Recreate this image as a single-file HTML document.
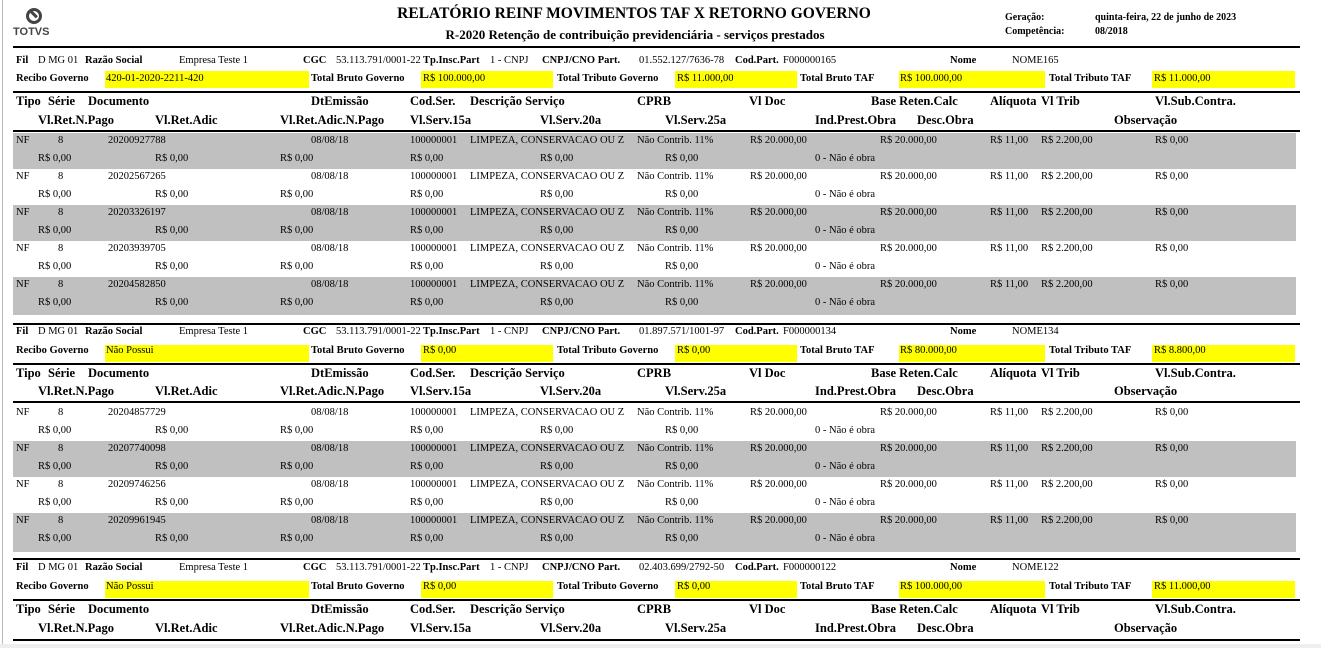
<!DOCTYPE html>
<html><head><meta charset="utf-8"><style>
body{margin:0;width:1321px;height:648px;background:#fff;position:relative;overflow:hidden;font-family:"Liberation Serif",serif;color:#000}
.a{position:absolute;white-space:nowrap}
.r{position:absolute;left:0;width:1321px;height:14px}
.r span{position:absolute;white-space:nowrap;top:0;line-height:14px;font-size:10.5px}
.h{height:16px}.h span{font-size:12.5px;font-weight:bold;line-height:16px}
.hl{position:absolute;left:13px;width:1287px;height:2px;background:#000}
.g{position:absolute;left:13px;width:1283px;background:#c0c0c0}
.y{position:absolute;background:#ffff00;height:17px}
</style></head><body>
<div class="a" style="left:2px;top:0;width:1px;height:648px;background:#bbb"></div>
<div class="a" style="left:26px;top:8px;width:16px;height:16px;border:3px solid #444;border-radius:50%;box-sizing:border-box"></div>
<div class="a" style="left:30px;top:13px;width:8px;height:3px;background:#444;transform:rotate(45deg)"></div>
<div class="a" style="left:13px;top:26px;font-family:'Liberation Sans',sans-serif;font-weight:bold;font-size:11px;color:#444">TOTVS</div>
<div class="a" style="left:0;width:1268px;text-align:center;top:5px;font-size:15.5px;font-weight:bold">RELATÓRIO REINF MOVIMENTOS TAF X RETORNO GOVERNO</div>
<div class="a" style="left:0;width:1270px;text-align:center;top:27px;font-size:13px;font-weight:bold">R-2020 Retenção de contribuição previdenciária - serviços prestados</div>
<div class="a" style="left:1005px;top:12px;font-size:10px;font-weight:bold">Geração:</div>
<div class="a" style="left:1095px;top:12px;font-size:10px;font-weight:bold">quinta-feira, 22 de junho de 2023</div>
<div class="a" style="left:1005px;top:26px;font-size:10px;font-weight:bold">Competência:</div>
<div class="a" style="left:1095px;top:26px;font-size:10px;font-weight:bold">08/2018</div>

<!-- SECTION 1 -->
<div class="hl" style="top:46px"></div>
<div class="r" style="top:54px"><span style="left:16px;font-weight:bold">Fil</span><span style="left:38px">D MG 01</span><span style="left:85px;font-weight:bold">Razão Social</span><span style="left:179px">Empresa Teste 1</span><span style="left:303px;font-weight:bold">CGC</span><span style="left:336px">53.113.791/0001-22</span><span style="left:423px;font-weight:bold">Tp.Insc.Part</span><span style="left:490px">1 - CNPJ</span><span style="left:542px;font-weight:bold">CNPJ/CNO Part.</span><span style="left:639px">01.552.127/7636-78</span><span style="left:735px;font-weight:bold">Cod.Part.</span><span style="left:783px">F000000165</span><span style="left:950px;font-weight:bold">Nome</span><span style="left:1012px">NOME165</span></div>
<div class="y" style="left:105px;width:204px;top:71px"></div><div class="y" style="left:421px;width:132px;top:71px"></div><div class="y" style="left:675px;width:122px;top:71px"></div><div class="y" style="left:899px;width:146px;top:71px"></div><div class="y" style="left:1152px;width:143px;top:71px"></div>
<div class="r" style="top:72px"><span style="left:16px;font-weight:bold">Recibo Governo</span><span style="left:106px">420-01-2020-2211-420</span><span style="left:311px;font-weight:bold">Total Bruto Governo</span><span style="left:423px">R$ 100.000,00</span><span style="left:557px;font-weight:bold">Total Tributo Governo</span><span style="left:677px">R$ 11.000,00</span><span style="left:800px;font-weight:bold">Total Bruto TAF</span><span style="left:900px">R$ 100.000,00</span><span style="left:1049px;font-weight:bold">Total Tributo TAF</span><span style="left:1154px">R$ 11.000,00</span></div>
<div class="hl" style="top:91px"></div>
<div class="r h" style="top:93px"><span style="left:16px">Tipo</span><span style="left:48px">Série</span><span style="left:88px">Documento</span><span style="left:311px">DtEmissão</span><span style="left:410px">Cod.Ser.</span><span style="left:470px">Descrição Serviço</span><span style="left:637px">CPRB</span><span style="left:749px">Vl Doc</span><span style="left:871px">Base Reten.Calc</span><span style="left:990px">Alíquota</span><span style="left:1041px">Vl Trib</span><span style="left:1155px">Vl.Sub.Contra.</span></div>
<div class="r h" style="top:112px"><span style="left:38px">Vl.Ret.N.Pago</span><span style="left:155px">Vl.Ret.Adic</span><span style="left:280px">Vl.Ret.Adic.N.Pago</span><span style="left:410px">Vl.Serv.15a</span><span style="left:540px">Vl.Serv.20a</span><span style="left:665px">Vl.Serv.25a</span><span style="left:815px">Ind.Prest.Obra</span><span style="left:917px">Desc.Obra</span><span style="left:1114px">Observação</span></div>
<div class="hl" style="top:130px"></div>
<div class="g" style="top:133px;height:36px"></div>
<div class="g" style="top:205px;height:36px"></div>
<div class="g" style="top:277px;height:38px"></div>

<div class="r" style="top:134px"><span style="left:16px">NF</span><span style="left:58px">8</span><span style="left:108px">20200927788</span><span style="left:311px">08/08/18</span><span style="left:410px">100000001</span><span style="left:470px">LIMPEZA, CONSERVACAO OU Z</span><span style="left:637px">Não Contrib. 11%</span><span style="left:750px">R$ 20.000,00</span><span style="left:880px">R$ 20.000,00</span><span style="left:990px">R$ 11,00</span><span style="left:1041px">R$ 2.200,00</span><span style="left:1155px">R$ 0,00</span></div>
<div class="r" style="top:152px"><span style="left:38px">R$ 0,00</span><span style="left:155px">R$ 0,00</span><span style="left:280px">R$ 0,00</span><span style="left:410px">R$ 0,00</span><span style="left:540px">R$ 0,00</span><span style="left:665px">R$ 0,00</span><span style="left:815px">0 - Não é obra</span></div>
<div class="r" style="top:170px"><span style="left:16px">NF</span><span style="left:58px">8</span><span style="left:108px">20202567265</span><span style="left:311px">08/08/18</span><span style="left:410px">100000001</span><span style="left:470px">LIMPEZA, CONSERVACAO OU Z</span><span style="left:637px">Não Contrib. 11%</span><span style="left:750px">R$ 20.000,00</span><span style="left:880px">R$ 20.000,00</span><span style="left:990px">R$ 11,00</span><span style="left:1041px">R$ 2.200,00</span><span style="left:1155px">R$ 0,00</span></div>
<div class="r" style="top:188px"><span style="left:38px">R$ 0,00</span><span style="left:155px">R$ 0,00</span><span style="left:280px">R$ 0,00</span><span style="left:410px">R$ 0,00</span><span style="left:540px">R$ 0,00</span><span style="left:665px">R$ 0,00</span><span style="left:815px">0 - Não é obra</span></div>
<div class="r" style="top:206px"><span style="left:16px">NF</span><span style="left:58px">8</span><span style="left:108px">20203326197</span><span style="left:311px">08/08/18</span><span style="left:410px">100000001</span><span style="left:470px">LIMPEZA, CONSERVACAO OU Z</span><span style="left:637px">Não Contrib. 11%</span><span style="left:750px">R$ 20.000,00</span><span style="left:880px">R$ 20.000,00</span><span style="left:990px">R$ 11,00</span><span style="left:1041px">R$ 2.200,00</span><span style="left:1155px">R$ 0,00</span></div>
<div class="r" style="top:224px"><span style="left:38px">R$ 0,00</span><span style="left:155px">R$ 0,00</span><span style="left:280px">R$ 0,00</span><span style="left:410px">R$ 0,00</span><span style="left:540px">R$ 0,00</span><span style="left:665px">R$ 0,00</span><span style="left:815px">0 - Não é obra</span></div>
<div class="r" style="top:242px"><span style="left:16px">NF</span><span style="left:58px">8</span><span style="left:108px">20203939705</span><span style="left:311px">08/08/18</span><span style="left:410px">100000001</span><span style="left:470px">LIMPEZA, CONSERVACAO OU Z</span><span style="left:637px">Não Contrib. 11%</span><span style="left:750px">R$ 20.000,00</span><span style="left:880px">R$ 20.000,00</span><span style="left:990px">R$ 11,00</span><span style="left:1041px">R$ 2.200,00</span><span style="left:1155px">R$ 0,00</span></div>
<div class="r" style="top:260px"><span style="left:38px">R$ 0,00</span><span style="left:155px">R$ 0,00</span><span style="left:280px">R$ 0,00</span><span style="left:410px">R$ 0,00</span><span style="left:540px">R$ 0,00</span><span style="left:665px">R$ 0,00</span><span style="left:815px">0 - Não é obra</span></div>
<div class="r" style="top:278px"><span style="left:16px">NF</span><span style="left:58px">8</span><span style="left:108px">20204582850</span><span style="left:311px">08/08/18</span><span style="left:410px">100000001</span><span style="left:470px">LIMPEZA, CONSERVACAO OU Z</span><span style="left:637px">Não Contrib. 11%</span><span style="left:750px">R$ 20.000,00</span><span style="left:880px">R$ 20.000,00</span><span style="left:990px">R$ 11,00</span><span style="left:1041px">R$ 2.200,00</span><span style="left:1155px">R$ 0,00</span></div>
<div class="r" style="top:296px"><span style="left:38px">R$ 0,00</span><span style="left:155px">R$ 0,00</span><span style="left:280px">R$ 0,00</span><span style="left:410px">R$ 0,00</span><span style="left:540px">R$ 0,00</span><span style="left:665px">R$ 0,00</span><span style="left:815px">0 - Não é obra</span></div>

<!-- SECTION 2 -->
<div class="hl" style="top:323px"></div>
<div class="r" style="top:325px"><span style="left:16px;font-weight:bold">Fil</span><span style="left:38px">D MG 01</span><span style="left:85px;font-weight:bold">Razão Social</span><span style="left:179px">Empresa Teste 1</span><span style="left:303px;font-weight:bold">CGC</span><span style="left:336px">53.113.791/0001-22</span><span style="left:423px;font-weight:bold">Tp.Insc.Part</span><span style="left:490px">1 - CNPJ</span><span style="left:542px;font-weight:bold">CNPJ/CNO Part.</span><span style="left:639px">01.897.571/1001-97</span><span style="left:735px;font-weight:bold">Cod.Part.</span><span style="left:783px">F000000134</span><span style="left:950px;font-weight:bold">Nome</span><span style="left:1012px">NOME134</span></div>
<div class="y" style="left:105px;width:204px;top:345px"></div><div class="y" style="left:421px;width:132px;top:345px"></div><div class="y" style="left:675px;width:122px;top:345px"></div><div class="y" style="left:899px;width:146px;top:345px"></div><div class="y" style="left:1152px;width:143px;top:345px"></div>
<div class="r" style="top:344px"><span style="left:16px;font-weight:bold">Recibo Governo</span><span style="left:106px">Não Possui</span><span style="left:311px;font-weight:bold">Total Bruto Governo</span><span style="left:423px">R$ 0,00</span><span style="left:557px;font-weight:bold">Total Tributo Governo</span><span style="left:677px">R$ 0,00</span><span style="left:800px;font-weight:bold">Total Bruto TAF</span><span style="left:900px">R$ 80.000,00</span><span style="left:1049px;font-weight:bold">Total Tributo TAF</span><span style="left:1154px">R$ 8.800,00</span></div>
<div class="hl" style="top:363px"></div>
<div class="r h" style="top:365px"><span style="left:16px">Tipo</span><span style="left:48px">Série</span><span style="left:88px">Documento</span><span style="left:311px">DtEmissão</span><span style="left:410px">Cod.Ser.</span><span style="left:470px">Descrição Serviço</span><span style="left:637px">CPRB</span><span style="left:749px">Vl Doc</span><span style="left:871px">Base Reten.Calc</span><span style="left:990px">Alíquota</span><span style="left:1041px">Vl Trib</span><span style="left:1155px">Vl.Sub.Contra.</span></div>
<div class="r h" style="top:383px"><span style="left:38px">Vl.Ret.N.Pago</span><span style="left:155px">Vl.Ret.Adic</span><span style="left:280px">Vl.Ret.Adic.N.Pago</span><span style="left:410px">Vl.Serv.15a</span><span style="left:540px">Vl.Serv.20a</span><span style="left:665px">Vl.Serv.25a</span><span style="left:815px">Ind.Prest.Obra</span><span style="left:917px">Desc.Obra</span><span style="left:1114px">Observação</span></div>
<div class="hl" style="top:401px"></div>
<div class="g" style="top:441px;height:36px"></div>
<div class="g" style="top:513px;height:39px"></div>
<div class="r" style="top:406px"><span style="left:16px">NF</span><span style="left:58px">8</span><span style="left:108px">20204857729</span><span style="left:311px">08/08/18</span><span style="left:410px">100000001</span><span style="left:470px">LIMPEZA, CONSERVACAO OU Z</span><span style="left:637px">Não Contrib. 11%</span><span style="left:750px">R$ 20.000,00</span><span style="left:880px">R$ 20.000,00</span><span style="left:990px">R$ 11,00</span><span style="left:1041px">R$ 2.200,00</span><span style="left:1155px">R$ 0,00</span></div>
<div class="r" style="top:424px"><span style="left:38px">R$ 0,00</span><span style="left:155px">R$ 0,00</span><span style="left:280px">R$ 0,00</span><span style="left:410px">R$ 0,00</span><span style="left:540px">R$ 0,00</span><span style="left:665px">R$ 0,00</span><span style="left:815px">0 - Não é obra</span></div>
<div class="r" style="top:442px"><span style="left:16px">NF</span><span style="left:58px">8</span><span style="left:108px">20207740098</span><span style="left:311px">08/08/18</span><span style="left:410px">100000001</span><span style="left:470px">LIMPEZA, CONSERVACAO OU Z</span><span style="left:637px">Não Contrib. 11%</span><span style="left:750px">R$ 20.000,00</span><span style="left:880px">R$ 20.000,00</span><span style="left:990px">R$ 11,00</span><span style="left:1041px">R$ 2.200,00</span><span style="left:1155px">R$ 0,00</span></div>
<div class="r" style="top:460px"><span style="left:38px">R$ 0,00</span><span style="left:155px">R$ 0,00</span><span style="left:280px">R$ 0,00</span><span style="left:410px">R$ 0,00</span><span style="left:540px">R$ 0,00</span><span style="left:665px">R$ 0,00</span><span style="left:815px">0 - Não é obra</span></div>
<div class="r" style="top:478px"><span style="left:16px">NF</span><span style="left:58px">8</span><span style="left:108px">20209746256</span><span style="left:311px">08/08/18</span><span style="left:410px">100000001</span><span style="left:470px">LIMPEZA, CONSERVACAO OU Z</span><span style="left:637px">Não Contrib. 11%</span><span style="left:750px">R$ 20.000,00</span><span style="left:880px">R$ 20.000,00</span><span style="left:990px">R$ 11,00</span><span style="left:1041px">R$ 2.200,00</span><span style="left:1155px">R$ 0,00</span></div>
<div class="r" style="top:496px"><span style="left:38px">R$ 0,00</span><span style="left:155px">R$ 0,00</span><span style="left:280px">R$ 0,00</span><span style="left:410px">R$ 0,00</span><span style="left:540px">R$ 0,00</span><span style="left:665px">R$ 0,00</span><span style="left:815px">0 - Não é obra</span></div>
<div class="r" style="top:514px"><span style="left:16px">NF</span><span style="left:58px">8</span><span style="left:108px">20209961945</span><span style="left:311px">08/08/18</span><span style="left:410px">100000001</span><span style="left:470px">LIMPEZA, CONSERVACAO OU Z</span><span style="left:637px">Não Contrib. 11%</span><span style="left:750px">R$ 20.000,00</span><span style="left:880px">R$ 20.000,00</span><span style="left:990px">R$ 11,00</span><span style="left:1041px">R$ 2.200,00</span><span style="left:1155px">R$ 0,00</span></div>
<div class="r" style="top:532px"><span style="left:38px">R$ 0,00</span><span style="left:155px">R$ 0,00</span><span style="left:280px">R$ 0,00</span><span style="left:410px">R$ 0,00</span><span style="left:540px">R$ 0,00</span><span style="left:665px">R$ 0,00</span><span style="left:815px">0 - Não é obra</span></div>

<!-- SECTION 3 -->
<div class="hl" style="top:558px"></div>
<div class="r" style="top:561px"><span style="left:16px;font-weight:bold">Fil</span><span style="left:38px">D MG 01</span><span style="left:85px;font-weight:bold">Razão Social</span><span style="left:179px">Empresa Teste 1</span><span style="left:303px;font-weight:bold">CGC</span><span style="left:336px">53.113.791/0001-22</span><span style="left:423px;font-weight:bold">Tp.Insc.Part</span><span style="left:490px">1 - CNPJ</span><span style="left:542px;font-weight:bold">CNPJ/CNO Part.</span><span style="left:639px">02.403.699/2792-50</span><span style="left:735px;font-weight:bold">Cod.Part.</span><span style="left:783px">F000000122</span><span style="left:950px;font-weight:bold">Nome</span><span style="left:1012px">NOME122</span></div>
<div class="y" style="left:105px;width:204px;top:581px"></div><div class="y" style="left:421px;width:132px;top:581px"></div><div class="y" style="left:675px;width:122px;top:581px"></div><div class="y" style="left:899px;width:146px;top:581px"></div><div class="y" style="left:1152px;width:143px;top:581px"></div>
<div class="r" style="top:580px"><span style="left:16px;font-weight:bold">Recibo Governo</span><span style="left:106px">Não Possui</span><span style="left:311px;font-weight:bold">Total Bruto Governo</span><span style="left:423px">R$ 0,00</span><span style="left:557px;font-weight:bold">Total Tributo Governo</span><span style="left:677px">R$ 0,00</span><span style="left:800px;font-weight:bold">Total Bruto TAF</span><span style="left:900px">R$ 100.000,00</span><span style="left:1049px;font-weight:bold">Total Tributo TAF</span><span style="left:1154px">R$ 11.000,00</span></div>
<div class="hl" style="top:599px"></div>
<div class="r h" style="top:601px"><span style="left:16px">Tipo</span><span style="left:48px">Série</span><span style="left:88px">Documento</span><span style="left:311px">DtEmissão</span><span style="left:410px">Cod.Ser.</span><span style="left:470px">Descrição Serviço</span><span style="left:637px">CPRB</span><span style="left:749px">Vl Doc</span><span style="left:871px">Base Reten.Calc</span><span style="left:990px">Alíquota</span><span style="left:1041px">Vl Trib</span><span style="left:1155px">Vl.Sub.Contra.</span></div>
<div class="r h" style="top:620px"><span style="left:38px">Vl.Ret.N.Pago</span><span style="left:155px">Vl.Ret.Adic</span><span style="left:280px">Vl.Ret.Adic.N.Pago</span><span style="left:410px">Vl.Serv.15a</span><span style="left:540px">Vl.Serv.20a</span><span style="left:665px">Vl.Serv.25a</span><span style="left:815px">Ind.Prest.Obra</span><span style="left:917px">Desc.Obra</span><span style="left:1114px">Observação</span></div>
<div class="hl" style="top:639px"></div>
<div class="a" style="left:0;top:644px;width:1321px;height:4px;background:#eee"></div>
</body></html>
